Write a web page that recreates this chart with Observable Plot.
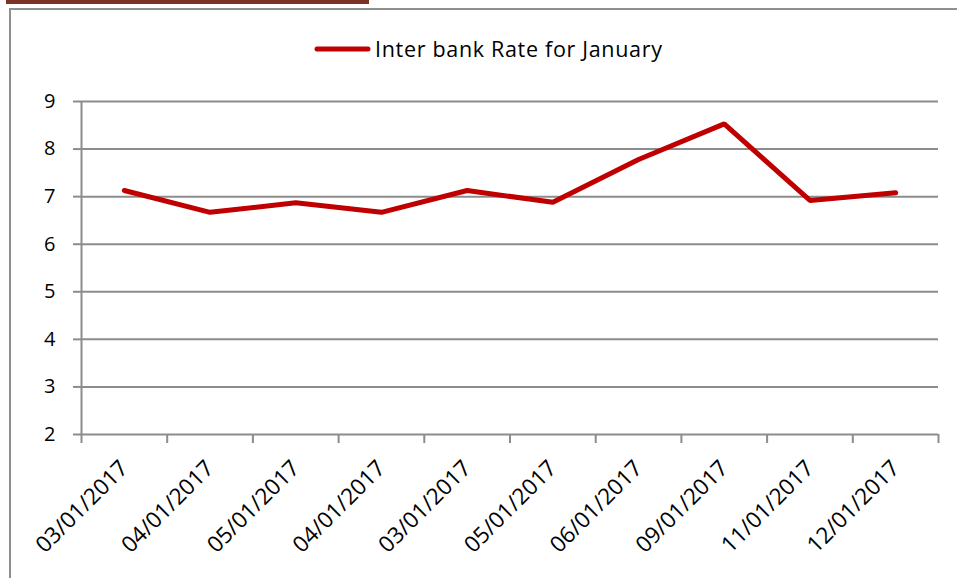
<!DOCTYPE html>
<html><head><meta charset="utf-8">
<script src="https://cdn.jsdelivr.net/npm/d3@7"></script>
<script src="https://cdn.jsdelivr.net/npm/@observablehq/plot@0.6"></script>
<style>
body{margin:0;width:957px;height:578px;overflow:hidden;background:#fff;position:relative;font-family:"Open Sans",sans-serif;}
#bar{position:absolute;left:6px;top:0;width:363px;height:4px;background:#7a3324;}
#frame{position:absolute;left:9px;top:8px;width:2000px;height:2000px;border-left:2px solid #8f8f8f;border-top:2px solid #8f8f8f;}
#legend{position:absolute;left:0;top:0;}
#chart{position:absolute;left:0;top:80px;}
</style>
</head><body>
<div id="bar"></div>
<div id="frame"></div>
<svg id="legend" width="957" height="80">
  <line x1="317" x2="368" y1="49" y2="49" stroke="#c00000" stroke-width="5" stroke-linecap="round"/>
  <text x="375" y="57" font-family="Open Sans" font-size="21.5" textLength="287" lengthAdjust="spacing" fill="#000">Inter bank Rate for January</text>
</svg>
<div id="chart"></div>
<script>
const labels = ["03/01/2017","04/01/2017","05/01/2017","04/01/2017","03/01/2017","05/01/2017","06/01/2017","09/01/2017","11/01/2017","12/01/2017"];
const rates = [7.13, 6.67, 6.87, 6.67, 7.13, 6.88, 7.78, 8.53, 6.92, 7.08];
const yTicks = [2,3,4,5,6,7,8,9];

const data = labels.map((label, i) => ({pos: i + 0.5, label, rate: rates[i]}));
const bandEdges = d3.range(0, labels.length + 1);
const grid = "#8c8c8c";

const chart = Plot.plot({
  width: 957,
  height: 498,
  marginLeft: 81,
  marginRight: 19,
  marginTop: 21,
  marginBottom: 144,
  x: {domain: [0, labels.length], axis: null},
  y: {domain: [2, 9], axis: null},
  style: {fontFamily: "Open Sans", background: "transparent", color: "#000"},
  marks: [
    Plot.ruleY(yTicks, {stroke: grid, strokeWidth: 2}),
    Plot.axisY(yTicks, {tickSize: 8, tickPadding: 18, stroke: grid, strokeWidth: 2, fill: "#000", fontSize: 20, label: null}),
    Plot.ruleX([0], {y1: 2, y2: 9, stroke: grid, strokeWidth: 2}),
    Plot.axisX(bandEdges, {tickSize: 9, tickFormat: () => "", stroke: grid, strokeWidth: 2, label: null}),
    Plot.axisX(data.map(d => d.pos), {tickSize: 0, tickRotate: -45, tickPadding: 30, tickFormat: (d) => labels[Math.floor(d)], fontSize: 22.5, fill: "#000", label: null}),
    Plot.line(data, {x: "pos", y: "rate", stroke: "#c00000", strokeWidth: 5, strokeLinecap: "round", strokeLinejoin: "miter"})
  ]
});
document.getElementById("chart").append(chart);
</script>
</body></html>
